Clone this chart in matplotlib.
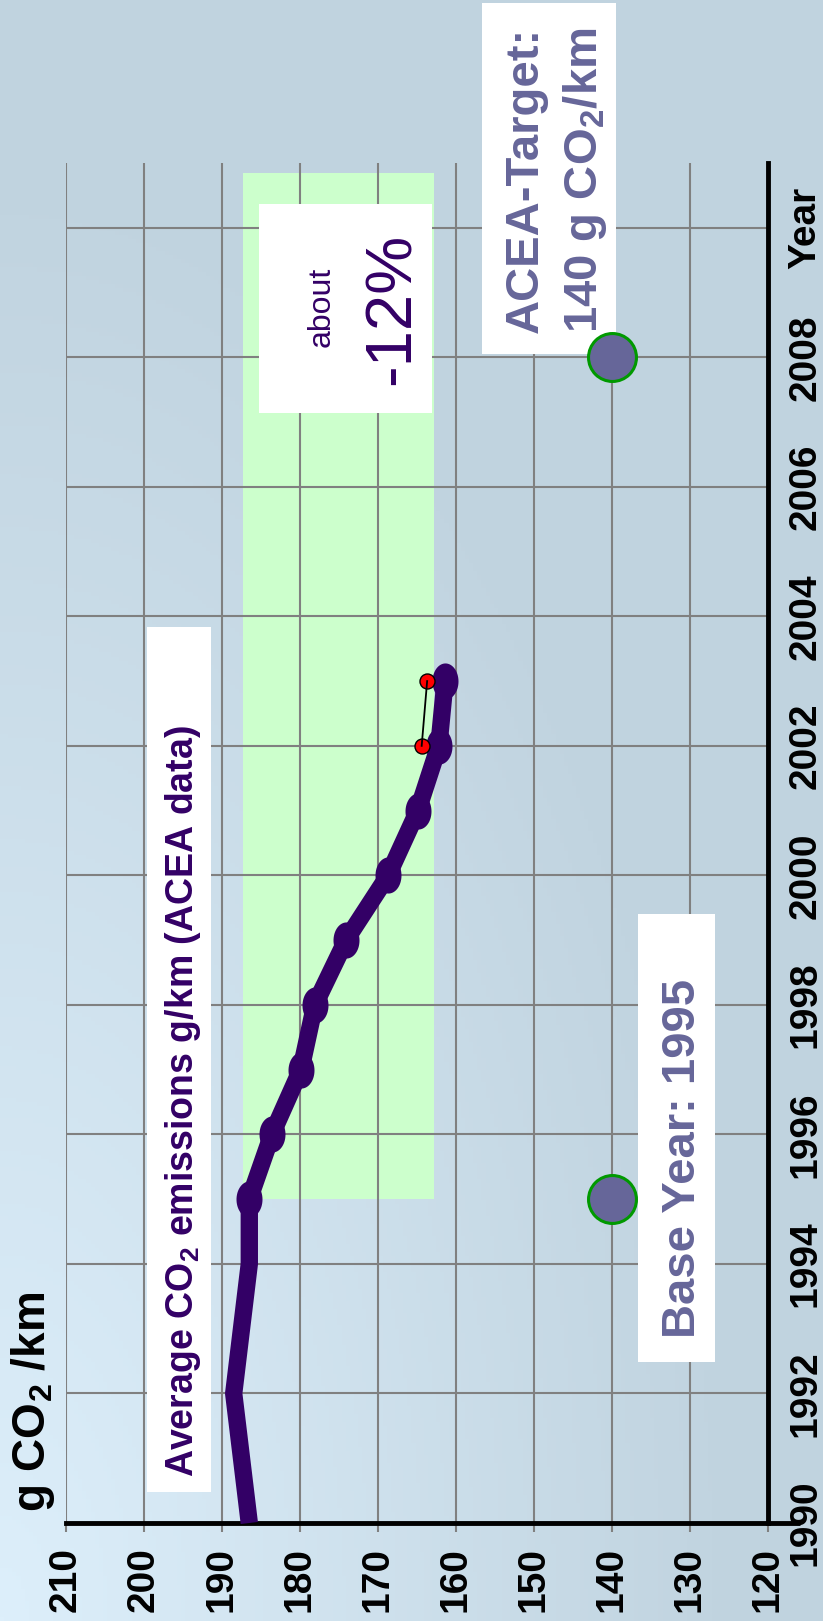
import numpy as np
import matplotlib
matplotlib.use("Agg")
import matplotlib.pyplot as plt
from matplotlib.patches import Rectangle
from matplotlib.path import Path

plt.rcParams['font.family'] = ['Liberation Sans', 'DejaVu Sans']
plt.rcParams['mathtext.fontset'] = 'custom'
plt.rcParams['mathtext.rm'] = 'Liberation Sans'
plt.rcParams['mathtext.bf'] = 'Liberation Sans:bold'

# ---------------- data ----------------
line_years = [1990, 1992, 1994, 1995, 1996, 1997, 1998, 1999, 2000, 2001, 2002, 2003]
line_values = [186.5, 188.5, 186.5, 186.5, 183.6, 179.9, 178.1, 174.1, 168.7, 164.9, 162.2, 161.4]
marker_years = [1995, 1996, 1997, 1998, 1999, 2000, 2001, 2002, 2003]
marker_values = [186.5, 183.6, 179.9, 178.1, 174.1, 168.7, 164.9, 162.2, 161.4]
red_years = [2002, 2003]
red_values = [164.4, 163.7]
target_years = [1995, 2008]
target_values = [140, 140]
band_co2 = [187.3, 162.8]
band_years = [1995, 2010.85]
co2_ticks = [210, 200, 190, 180, 170, 160, 150, 140, 130, 120]
co2_labels = ['210', '200', '190', '180', '170', '160', '150', '140', '130', '120']
year_ticks = [1990, 1992, 1994, 1996, 1998, 2000, 2002, 2004, 2006, 2008, 2010]
year_labels = ['1990', '1992', '1994', '1996', '1998', '2000', '2002', '2004', '2006', '2008', 'Year']

W, H = 823, 1621
fig = plt.figure(figsize=(W / 100, H / 100), dpi=100)

def fx(x):
    return x / W

def fy(y):
    return 1 - y / H

# background gradient
bg = fig.add_axes([0, 0, 1, 1], zorder=-10)
xx, yy = np.meshgrid(np.linspace(0, 1, 200), np.linspace(0, 1, 400))
d = np.sqrt(xx ** 2 + yy ** 2)
t = np.clip(d / 0.9, 0, 1)[..., None]
light = np.array([0xDD, 0xEF, 0xFB]) / 255
dark = np.array([0xC0, 0xD3, 0xDF]) / 255
img = light * (1 - t) + dark * t
bg.imshow(img, origin='lower', aspect='auto', extent=[0, 1, 0, 1])
bg.axis('off')

ax = fig.add_axes([fx(66), fy(1523), fx(768) - fx(66), fy(163) - fy(1523)])
ax.set_facecolor('none')
ax.set_xlim(210, 120)
ax.set_ylim(1990, 2011)

# green band
ax.add_patch(Rectangle((band_co2[0], band_years[0]), band_co2[1] - band_co2[0],
                       band_years[1] - band_years[0], facecolor='#CCFFCC',
                       edgecolor='none', zorder=0.2))

ax.set_axisbelow(True)
ax.grid(True, color='#808080', lw=1.5)

for s in ['left', 'top']:
    ax.spines[s].set_visible(False)
for s in ['bottom', 'right']:
    ax.spines[s].set_color('black')
    ax.spines[s].set_linewidth(3.5)
ax.plot([1, 1.045], [0, 0], transform=ax.transAxes, color='black', lw=3.5,
        clip_on=False, solid_capstyle='butt')

ax.set_xticks(co2_ticks)
ax.set_xticklabels(co2_labels, rotation=90, fontsize=28, fontweight='bold', va='top', ha='center')
ax.tick_params(axis='x', direction='out', length=6.5, width=1.5, color='#808080', pad=11)

ax.yaxis.tick_right()
ax.set_yticks(year_ticks)
ax.set_yticklabels(year_labels, rotation=90, fontsize=28, fontweight='bold', va='center', ha='left')
ax.tick_params(axis='y', length=0, pad=14)

# white boxes (figure pixel layout)
def box(x0, y0, x1, y1):
    r = Rectangle((fx(x0), fy(y1)), fx(x1) - fx(x0), fy(y0) - fy(y1),
                  transform=fig.transFigure, facecolor='white', edgecolor='none',
                  zorder=3, clip_on=False)
    ax.add_artist(r)

box(259, 204, 432, 413)
box(482, 3, 616, 354)
box(638, 914, 715, 1362)
box(147, 627, 211, 1492)

def label(xb, yc, s, size, color, weight='normal'):
    ax.text(fx(xb), fy(yc), s, transform=fig.transFigure, rotation=90,
            rotation_mode='anchor', ha='center', va='baseline', fontsize=size,
            color=color, fontweight=weight, zorder=4, clip_on=False)

label(45, 1402, r'g CO$_\mathbf{2}$ /km', 33, 'black', 'bold')
label(193, 1101, r'Average CO$_\mathbf{2}$ emissions g/km (ACEA data)', 27, '#330066', 'bold')
label(330, 307, 'about', 23, '#330066')
label(410, 309, '-12%', 47, '#330066')
label(538, 180, 'ACEA-Target:', 34, '#666699', 'bold')
label(597, 180, r'140 g CO$_\mathbf{2}$/km', 34, '#666699', 'bold')
label(695, 1158, 'Base Year: 1995', 34, '#666699', 'bold')

# data line
ax.plot(line_values, line_years, color='#330066', lw=12.5, solid_capstyle='butt',
        solid_joinstyle='round', zorder=5, clip_on=False)
th = np.linspace(0, 2 * np.pi, 60)
ell = Path(np.column_stack([0.72 * np.cos(th), np.sin(th)]))
ax.plot(marker_values, marker_years, ls='none', marker=ell, markersize=26,
        color='#330066', markeredgewidth=0, zorder=6)

ax.plot(red_values, red_years, ls='none', marker='o', markersize=10.8,
        markerfacecolor='red', markeredgecolor='black', markeredgewidth=1, zorder=7)
ax.plot(red_values, red_years, color='black', lw=1.3, zorder=8)

ax.plot(target_values, target_years, ls='none', marker='o', markersize=34.5,
        markerfacecolor='#666699', markeredgecolor='#009900', markeredgewidth=2.2,
        zorder=9, clip_on=False)

fig.savefig('out.png', dpi=100)
